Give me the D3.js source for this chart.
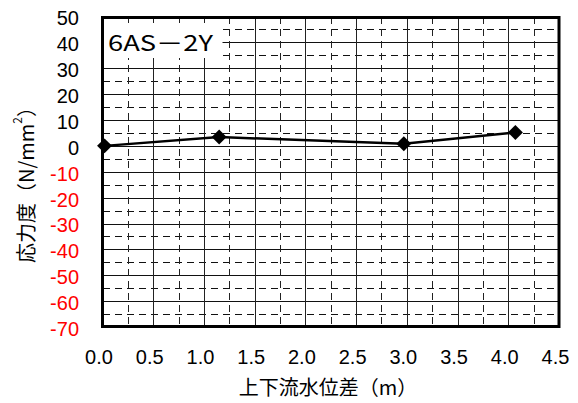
<!DOCTYPE html>
<html>
<head>
<meta charset="utf-8">
<script src="https://cdn.jsdelivr.net/npm/d3@7"></script>
<style>
  html, body { margin: 0; padding: 0; background: #fff; }
  svg { display: block; }
</style>
</head>
<body>
<svg id="chart" width="578" height="403"></svg>
<script>
// ---- data ----
const waterLevelDiff = [0.02, 1.15, 2.97, 4.07];      // 上下流水位差 (m)
const stressValues   = [0.0, 3.4, 0.8, 5.2];          // 応力度 (N/mm²)
const xTickValues = [0, 0.5, 1, 1.5, 2, 2.5, 3, 3.5, 4, 4.5];
const yTickValues = [50, 40, 30, 20, 10, 0, -10, -20, -30, -40, -50, -60, -70];
const xMinorGrid = d3.range(0.25, 4.5, 0.25);
const yMinorGrid = d3.range(-65, 50, 5);
const seriesLabel = "6AS－2Y";
const xTitle = "上下流水位差（m）";
const yTitleMain = "応力度（N/mm";
const yTitleSup = "2";
const yTitleEnd = "）";

// ---- layout ----
const svg = d3.select("#chart");
const x = d3.scaleLinear().domain([0, 4.5]).range([102.5, 559]);
const y = d3.scaleLinear().domain([-70, 50]).range([327, 16.5]);
const numFont = "'Liberation Sans', Arial, sans-serif";
const cjkFont = "'Noto Sans CJK JP', sans-serif";

const grid = svg.append("g").attr("shape-rendering", "crispEdges");
// horizontal grid lines
grid.selectAll("line.h").data(yMinorGrid).join("line")
  .attr("class", "h")
  .attr("x1", x(0)).attr("x2", x(4.5))
  .attr("y1", d => Math.round(y(d)) + 0.5).attr("y2", d => Math.round(y(d)) + 0.5)
  .attr("stroke", "#111").attr("stroke-width", 1)
  .attr("stroke-dasharray", d => (Math.abs(d) % 10 === 0) ? null : "7,5");
// vertical grid lines
grid.selectAll("line.v").data(xMinorGrid).join("line")
  .attr("class", "v")
  .attr("y1", y(50)).attr("y2", y(-70))
  .attr("x1", d => Math.round(x(d)) + 0.5).attr("x2", d => Math.round(x(d)) + 0.5)
  .attr("stroke", "#222").attr("stroke-width", 1)
  .attr("stroke-dasharray", d => (Math.abs(d * 2 - Math.round(d * 2)) < 1e-6) ? null : "7,5");

// label box (white background over grid)
svg.append("rect")
  .attr("x", x(0)).attr("y", 23)
  .attr("width", 120).attr("height", 35)
  .attr("fill", "#fff");
svg.append("text")
  .attr("x", 108).attr("y", 50.5)
  .attr("font-family", cjkFont).attr("font-size", 22)
  .attr("textLength", 105).attr("lengthAdjust", "spacingAndGlyphs")
  .attr("fill", "#000")
  .text(seriesLabel);

// border
svg.append("rect")
  .attr("x", x(0)).attr("y", y(50) + 1)
  .attr("width", x(4.5) - x(0)).attr("height", y(-70) - y(50) - 1.5)
  .attr("fill", "none").attr("stroke", "#000").attr("stroke-width", 3);

// series line and markers
const pts = waterLevelDiff.map((v, i) => [v, stressValues[i]]);
svg.append("path")
  .datum(pts)
  .attr("d", d3.line().x(d => x(d[0])).y(d => y(d[1])))
  .attr("fill", "none").attr("stroke", "#000").attr("stroke-width", 2.5);
svg.selectAll("path.mk").data(pts).join("path")
  .attr("class", "mk")
  .attr("d", d3.symbol(d3.symbolSquare, 112))
  .attr("transform", d => `translate(${x(d[0])},${y(d[1])}) rotate(45)`)
  .attr("fill", "#000");

// y axis
const yAxis = svg.append("g")
  .attr("transform", `translate(${x(0)},2)`)
  .call(d3.axisLeft(y).tickValues(yTickValues).tickSize(0).tickPadding(23.5).tickFormat(d3.format("d")));
yAxis.select(".domain").remove();
yAxis.selectAll("text")
  .attr("font-family", numFont).attr("font-size", 20)
  .attr("fill", d => d < 0 ? "#ff0000" : "#000")
  .text(d => d < 0 ? "-" + Math.abs(d) : String(d));

// x axis
const xAxis = svg.append("g")
  .attr("transform", `translate(-4,${y(-70)})`)
  .call(d3.axisBottom(x).tickValues(xTickValues).tickSize(0).tickPadding(23).tickFormat(d3.format(".1f")));
xAxis.select(".domain").remove();
xAxis.selectAll("text")
  .attr("font-family", numFont).attr("font-size", 20).attr("fill", "#000");

// axis titles
svg.append("text")
  .attr("x", 328).attr("y", 395)
  .attr("text-anchor", "middle")
  .attr("font-family", cjkFont).attr("font-size", 20).attr("fill", "#000")
  .text(xTitle);

const yt = svg.append("text")
  .attr("transform", "translate(25,180) rotate(-90)")
  .attr("text-anchor", "middle")
  .attr("dominant-baseline", "central")
  .attr("font-family", cjkFont).attr("font-size", 20).attr("fill", "#000");
yt.append("tspan").text(yTitleMain);
yt.append("tspan").attr("baseline-shift", "super").attr("font-size", 12).text(yTitleSup);
yt.append("tspan").text(yTitleEnd);
</script>
</body>
</html>
